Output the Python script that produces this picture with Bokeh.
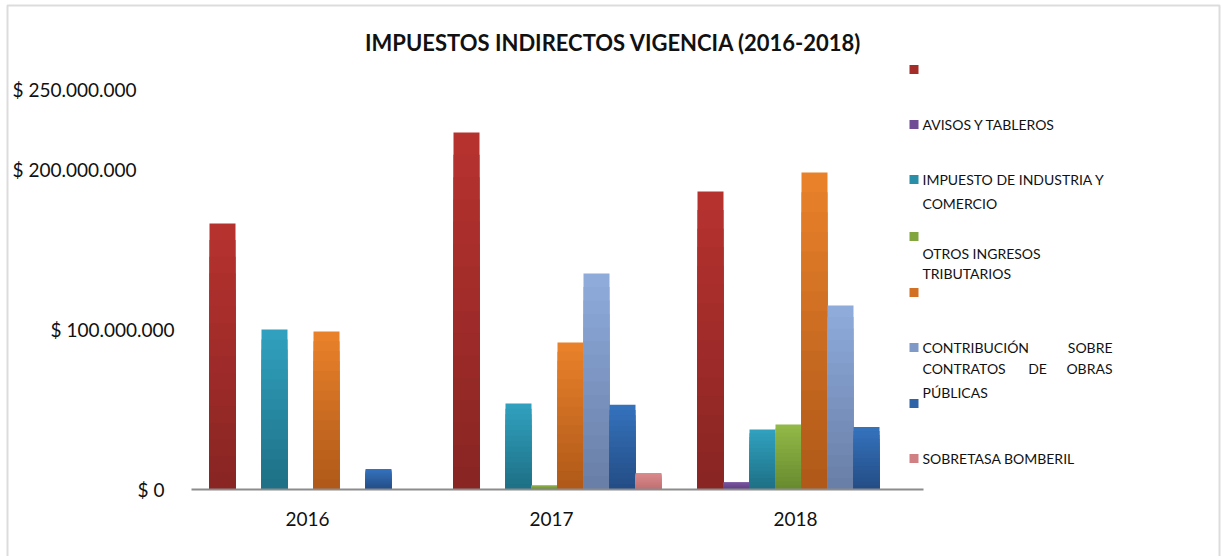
from bokeh.plotting import figure
from bokeh.models import Range1d, Label, BoxAnnotation, ColumnDataSource
from bokeh.embed import file_html
from bokeh.resources import INLINE

# ---------------- data ----------------
years = ["2016", "2017", "2018"]

red_vals = [166.3e6, 223.1e6, 186.3e6]          # (sin nombre en la leyenda)
avisos_vals = [0, 0, 4.6e6]                      # AVISOS Y TABLEROS
ica_vals = [100.0e6, 53.8e6, 37.5e6]             # IMPUESTO DE INDUSTRIA Y COMERCIO
otros_vals = [0, 2.6e6, 40.6e6]                  # OTROS INGRESOS TRIBUTARIOS
orange_vals = [98.8e6, 91.9e6, 198.1e6]          # (sin nombre)
contrib_vals = [0, 135.0e6, 115.0e6]             # CONTRIBUCIÓN SOBRE CONTRATOS DE OBRAS PÚBLICAS
blue_vals = [12.8e6, 53.0e6, 39.0e6]             # (sin nombre)
bomberil_vals = [0, 10.3e6, 0]                   # SOBRETASA BOMBERIL

y_tick_values = [250e6, 200e6, 100e6, 0]
y_tick_labels = ["$ 250.000.000", "$ 200.000.000", "$ 100.000.000", "$ 0"]

title_text = "IMPUESTOS INDIRECTOS VIGENCIA (2016-2018)"

series_values = [red_vals, avisos_vals, ica_vals, otros_vals,
                 orange_vals, contrib_vals, blue_vals, bomberil_vals]
# (top colour, bottom colour) for the vertical gradient of each bar
series_colors = [("#B8322F", "#872523"), ("#7B56A2", "#5C3E80"),
                 ("#31A2C0", "#1D6F84"), ("#93B948", "#678A2E"),
                 ("#EA822B", "#AE5818"), ("#8FACDC", "#687EA6"),
                 ("#3573BE", "#234C84"), ("#DC8B8D", "#BF6F71")]

FONT = "Lato"
W, H = 1222, 556
X0 = 191          # canvas x of the start of the category axis
CAT_PX = 244      # pixels per category
ZERO_Y = 489      # canvas y of the zero line
PX_PER_M = 1.6    # pixels per million


def hexlerp(c1, c2, t):
    a = [int(c1[i:i + 2], 16) for i in (1, 3, 5)]
    b = [int(c2[i:i + 2], 16) for i in (1, 3, 5)]
    return "#%02x%02x%02x" % tuple(round(a[k] + (b[k] - a[k]) * t) for k in range(3))


def dy(canvas_y):
    """canvas y (px) -> data value"""
    return (ZERO_Y - canvas_y) / PX_PER_M * 1e6


def dx(canvas_x):
    """canvas x (px) -> category units"""
    return (canvas_x - X0) / CAT_PX


p = figure(width=W, height=H, x_range=Range1d(dx(0), dx(W)), y_range=Range1d(dy(H), dy(0)),
           output_backend="svg", toolbar_location=None, min_border=0)
p.outline_line_color = None
p.grid.visible = False
p.axis.visible = False

NSER = len(series_values)
bar_w = 26 / CAT_PX
group_w = bar_w * NSER
NB = 16
for i, (vals, (ctop, cbot)) in enumerate(zip(series_values, series_colors)):
    off = -group_w / 2 + (i + 0.5) * bar_w
    xs, tops, cols = [], [], []
    for j, v in enumerate(vals):
        if v <= 0:
            continue
        # overlapping layers, tallest first, give a vertical gradient without seams
        for k in range(NB):
            frac = (NB - k) / NB
            xs.append(j + 0.5 + off)
            tops.append(v * frac)
            cols.append(hexlerp(cbot, ctop, frac - 0.5 / NB))
    src = ColumnDataSource(dict(x=xs, top=tops, color=cols))
    p.vbar(x="x", width=bar_w, bottom=0, top="top", fill_color="color",
           line_color=None, source=src)

# category axis line and labels
p.segment(x0=[0], y0=[0], x1=[len(years)], y1=[0], line_color="#8c8c8c", line_width=2)
p.text(x=[j + 0.5 for j in range(len(years))], y=[dy(518)] * len(years), text=years,
       x_offset=-6, text_align="center", text_baseline="middle",
       text_font={"value": FONT}, text_font_size="19px", text_color="#111111")

# value labels (placed like the original)
tick_x = [12, 12, 50, 137]
for v, lab, tx in zip(y_tick_values, y_tick_labels, tick_x):
    p.add_layout(Label(x=tx, x_units="screen", y=v, text=lab, text_baseline="middle",
                       text_font=FONT, text_font_size="19px", text_color="#111111"))

# title
p.add_layout(Label(x=613, x_units="screen", y=dy(42), text=title_text, text_align="center",
                   text_baseline="middle", text_font=FONT, text_font_size="22px",
                   text_font_style="bold", text_color="#111111"))

# legend
marker_y = [69, 124, 179, 236, 292, 347, 403, 458]
for (ctop, cbot), my in zip(series_colors, marker_y):
    p.add_layout(BoxAnnotation(left=909, right=918, left_units="screen", right_units="screen",
                               bottom=dy(my + 4.5), top=dy(my - 4.5),
                               fill_color=hexlerp(cbot, ctop, 0.6), fill_alpha=1,
                               line_color=None))
legend_lines = [
    ("AVISOS Y TABLEROS", 922, 124, "left"),
    ("IMPUESTO DE INDUSTRIA Y", 922, 179, "left"),
    ("COMERCIO", 922, 203, "left"),
    ("OTROS INGRESOS", 922, 253, "left"),
    ("TRIBUTARIOS", 922, 273, "left"),
    ("CONTRIBUCIÓN", 922, 347, "left"),
    ("SOBRE", 1112, 347, "right"),
    ("CONTRATOS", 922, 368, "left"),
    ("DE", 1037, 368, "center"),
    ("OBRAS", 1112, 368, "right"),
    ("PÚBLICAS", 922, 392, "left"),
    ("SOBRETASA BOMBERIL", 922, 458, "left"),
]
for txt, lx, ly, al in legend_lines:
    p.add_layout(Label(x=lx, x_units="screen", y=dy(ly), text=txt, text_align=al,
                       text_baseline="middle", text_font=FONT, text_font_size="14px",
                       text_color="#111111"))

# outer border of the chart area
p.add_layout(BoxAnnotation(left=7, right=1219, left_units="screen", right_units="screen",
                           top=dy(5), bottom=dy(600), fill_alpha=0,
                           line_color="#8c8c8c", line_width=2))

open("out.html", "w").write(file_html(p, INLINE))
